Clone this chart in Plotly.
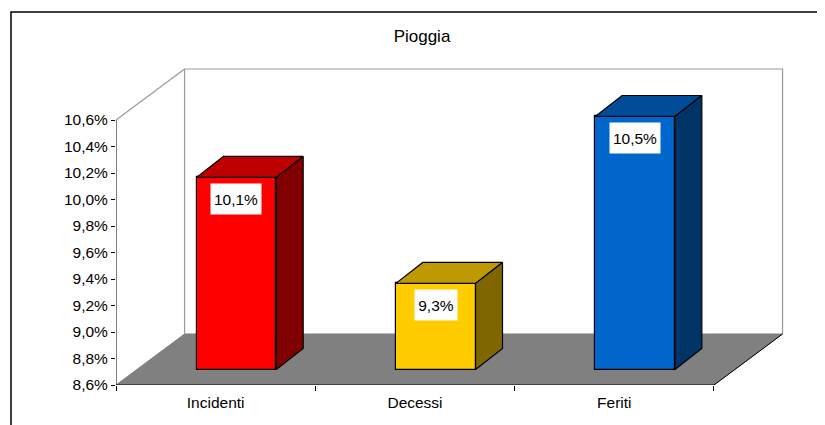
import plotly.graph_objects as go

categories = ["Incidenti", "Decessi", "Feriti"]
values = [10.05, 9.25, 10.51]
value_labels = ["10,1%", "9,3%", "10,5%"]
front_colors = ["#FF0000", "#FFCC00", "#0066CC"]
top_colors = ["#BF0000", "#BF9900", "#004C99"]
side_colors = ["#800000", "#806600", "#003366"]
y_ticks = [8.6, 8.8, 9.0, 9.2, 9.4, 9.6, 9.8, 10.0, 10.2, 10.4, 10.6]
y_tick_labels = ["8,6%", "8,8%", "9,0%", "9,2%", "9,4%", "9,6%", "9,8%", "10,0%", "10,2%", "10,4%", "10,6%"]
title = "Pioggia"

FONT = "Liberation Sans, Arial, sans-serif"
YMIN, YMAX = 8.6, 10.6
XMIN, XMAX = -0.5, 2.5
# oblique projection, in axis units
WALL_DX, WALL_DY = 0.344, 0.385
BAR_DX, BAR_DY = 0.135, 0.158
INSET_DX, INSET_DY = 0.104, 0.117
BAR_W = 0.40

# figure sits 8px inside the page; plot area in figure pixels
W, H = 817, 417
PL, PR, PT, PB = 108, 778, 58, 377
PX_PER_X = 199.33
PX_PER_Y = 132.5
x_range = [XMIN, XMIN + (PR - PL) / PX_PER_X]
y_range = [YMIN, YMIN + (PB - PT) / PX_PER_Y]

fig = go.Figure()


def poly(xs, ys, fill=None, line="#000000", width=1.0, over=False):
    fig.add_trace(go.Scatter(
        x=xs, y=ys, mode="lines", hoverinfo="skip", showlegend=False,
        fill="toself" if fill else None, fillcolor=fill,
        line=dict(color=line, width=width),
        xaxis="x2" if over else "x", yaxis="y2" if over else "y",
    ))


# floor
poly([XMIN, XMIN + WALL_DX, XMAX + WALL_DX, XMAX, XMIN],
     [YMIN, YMIN + WALL_DY, YMIN + WALL_DY, YMIN, YMIN],
     fill="#808080", line="#808080")
# walls
poly([XMIN, XMIN + WALL_DX, XMIN + WALL_DX], [YMAX, YMAX + WALL_DY, YMIN + WALL_DY], line="#999999", width=1.2)
poly([XMIN + WALL_DX, XMAX + WALL_DX, XMAX + WALL_DX], [YMAX + WALL_DY, YMAX + WALL_DY, YMIN + WALL_DY], line="#999999", width=1.2)
# axis lines and right floor edge
poly([XMIN, XMIN, XMAX, XMAX + WALL_DX], [YMAX, YMIN, YMIN, YMIN + WALL_DY], line="#000000")

# front faces, on an overlay so they sit above the floor
xpos = list(range(len(categories)))
fig.add_trace(go.Bar(
    x=xpos,
    y=[v - YMIN for v in values],
    base=[YMIN + INSET_DY] * len(values),
    width=BAR_W,
    offset=-BAR_W / 2 + INSET_DX,
    marker=dict(color=front_colors, line=dict(color="#000000", width=1.2)),
    hoverinfo="skip", showlegend=False,
    xaxis="x2", yaxis="y2",
))

# tops and sides, derived from the values
for i, v in enumerate(values):
    left = i - BAR_W / 2 + INSET_DX
    right = left + BAR_W
    bottom = YMIN + INSET_DY
    top = v + INSET_DY
    poly([left, left + BAR_DX, right + BAR_DX, right, left],
         [top, top + BAR_DY, top + BAR_DY, top, top], fill=top_colors[i], width=1.2, over=True)
    poly([right, right + BAR_DX, right + BAR_DX, right, right],
         [top, top + BAR_DY, bottom + BAR_DY, bottom, top], fill=side_colors[i], width=1.2, over=True)
    fig.add_annotation(
        x=i + INSET_DX, y=top, xref="x", yref="y", yshift=-22,
        text=value_labels[i], showarrow=False, bgcolor="#FFFFFF",
        width=50 if len(value_labels[i]) > 4 else 42, height=30, borderpad=0,
        font=dict(family=FONT, size=15.5, color="#000000"),
    )

pw, ph = PR - PL, PB - PT
fx0 = (3 - PL) / pw
fy1 = (PB - 4) / ph
fx1 = (W - PL) / pw
fy0 = (PB - H) / ph

fig.update_layout(
    width=W, height=H, autosize=False,
    margin=dict(l=PL, r=W - PR, t=PT, b=H - PB, pad=0),
    paper_bgcolor="#FFFFFF", plot_bgcolor="rgba(0,0,0,0)",
    font=dict(family=FONT, size=15.5, color="#000000"),
    title=dict(text=title, x=(422 - 8) / W, xanchor="center", y=1 - (36 - 8) / H, yanchor="middle",
               font=dict(family=FONT, size=17, color="#000000")),
    bargap=0,
    showlegend=False,
    xaxis=dict(
        range=x_range, tickmode="array", tickvals=xpos, ticktext=categories,
        ticks="", showgrid=False, zeroline=False, showline=False,
        ticklabelstandoff=6,
        minor=dict(tickmode="array", tickvals=[-0.5, 0.5, 1.5, 2.5], ticks="outside", ticklen=5,
                   tickcolor="#000000", tickwidth=1, showgrid=False),
    ),
    yaxis=dict(
        range=y_range, tickmode="array", tickvals=y_ticks, ticktext=y_tick_labels,
        ticks="outside", ticklen=4, tickcolor="#000000", tickwidth=1,
        showgrid=False, zeroline=False, showline=False,
    ),
    xaxis2=dict(range=x_range, overlaying="x", visible=False),
    yaxis2=dict(range=y_range, overlaying="y", visible=False),
    shapes=[dict(type="path", xref="paper", yref="paper", layer="above",
                 path=f"M {fx0} {fy0} L {fx0} {fy1} L {fx1} {fy1}",
                 line=dict(color="#000000", width=1.5))],
)

fig.write_html("out.html")
